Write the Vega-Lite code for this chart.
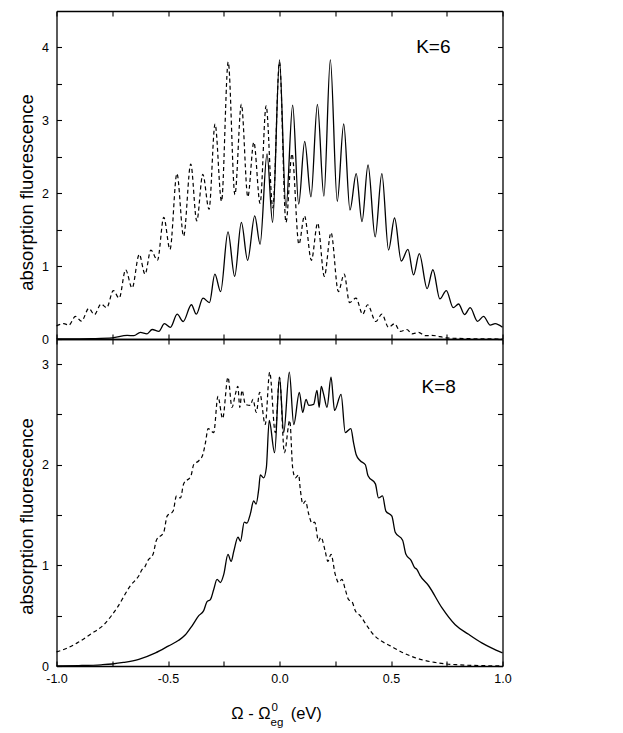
{
  "$schema": "https://vega.github.io/schema/vega-lite/v6.json",
  "padding": {"left": 17.5, "top": 10, "right": 5, "bottom": 5},
  "bounds": "flush",
  "spacing": 0,
  "config": {
    "font": "Liberation Sans",
    "view": {"stroke": null},
    "axis": {
      "domainColor": "black", "domainWidth": 1.3, "tickColor": "black", "tickWidth": 1.1,
      "labelColor": "black", "labelFontSize": 12.5, "labelFont": "Liberation Sans",
      "titleColor": "black", "titleFont": "Liberation Sans", "titleFontWeight": "normal",
      "grid": false, "labelOverlap": false
    }
  },
  "datasets": {
    "k6s": [
      {"x": -1, "y": 0}, {"x": -0.9, "y": 0.002}, {"x": -0.84, "y": 0.005}, {"x": -0.75, "y": 0.015},
      {"x": -0.683, "y": 0.05}, {"x": -0.653, "y": 0.045}, {"x": -0.624, "y": 0.09}, {"x": -0.594, "y": 0.07},
      {"x": -0.571, "y": 0.13}, {"x": -0.541, "y": 0.105}, {"x": -0.516, "y": 0.21}, {"x": -0.489, "y": 0.16},
      {"x": -0.459, "y": 0.34}, {"x": -0.432, "y": 0.24}, {"x": -0.395, "y": 0.47}, {"x": -0.373, "y": 0.34},
      {"x": -0.343, "y": 0.56}, {"x": -0.314, "y": 0.5}, {"x": -0.29, "y": 0.89}, {"x": -0.264, "y": 0.65},
      {"x": -0.231, "y": 1.47}, {"x": -0.201, "y": 0.86}, {"x": -0.171, "y": 1.6}, {"x": -0.143, "y": 1.08},
      {"x": -0.111, "y": 1.69}, {"x": -0.087, "y": 1.3}, {"x": -0.056, "y": 2.54}, {"x": -0.031, "y": 1.6},
      {"x": 0, "y": 3.83}, {"x": 0.029, "y": 1.8}, {"x": 0.059, "y": 3.21}, {"x": 0.086, "y": 1.85},
      {"x": 0.113, "y": 2.71}, {"x": 0.141, "y": 1.95}, {"x": 0.17, "y": 3.22}, {"x": 0.199, "y": 1.96},
      {"x": 0.228, "y": 3.83}, {"x": 0.259, "y": 1.89}, {"x": 0.288, "y": 2.95}, {"x": 0.316, "y": 1.77},
      {"x": 0.344, "y": 2.27}, {"x": 0.37, "y": 1.61}, {"x": 0.397, "y": 2.39}, {"x": 0.429, "y": 1.4},
      {"x": 0.459, "y": 2.27}, {"x": 0.489, "y": 1.22}, {"x": 0.516, "y": 1.66}, {"x": 0.546, "y": 1.07},
      {"x": 0.576, "y": 1.23}, {"x": 0.601, "y": 0.88}, {"x": 0.627, "y": 1.17}, {"x": 0.662, "y": 0.69},
      {"x": 0.688, "y": 0.95}, {"x": 0.719, "y": 0.55}, {"x": 0.748, "y": 0.665}, {"x": 0.779, "y": 0.43},
      {"x": 0.803, "y": 0.48}, {"x": 0.83, "y": 0.335}, {"x": 0.855, "y": 0.43}, {"x": 0.888, "y": 0.243},
      {"x": 0.915, "y": 0.31}, {"x": 0.945, "y": 0.19}, {"x": 0.967, "y": 0.21}, {"x": 1, "y": 0.16}
    ],
    "k6d": [
      {"x": -1, "y": 0.18}, {"x": -0.967, "y": 0.21}, {"x": -0.945, "y": 0.19}, {"x": -0.915, "y": 0.31},
      {"x": -0.888, "y": 0.245}, {"x": -0.855, "y": 0.42}, {"x": -0.83, "y": 0.335}, {"x": -0.8, "y": 0.48},
      {"x": -0.775, "y": 0.43}, {"x": -0.745, "y": 0.665}, {"x": -0.719, "y": 0.56}, {"x": -0.69, "y": 0.95},
      {"x": -0.661, "y": 0.7}, {"x": -0.629, "y": 1.16}, {"x": -0.603, "y": 0.89}, {"x": -0.577, "y": 1.22},
      {"x": -0.547, "y": 1.08}, {"x": -0.519, "y": 1.67}, {"x": -0.491, "y": 1.23}, {"x": -0.46, "y": 2.27},
      {"x": -0.43, "y": 1.41}, {"x": -0.398, "y": 2.4}, {"x": -0.371, "y": 1.62}, {"x": -0.344, "y": 2.26},
      {"x": -0.316, "y": 1.78}, {"x": -0.289, "y": 2.95}, {"x": -0.26, "y": 1.89}, {"x": -0.23, "y": 3.8},
      {"x": -0.2, "y": 1.98}, {"x": -0.171, "y": 3.22}, {"x": -0.142, "y": 1.95}, {"x": -0.115, "y": 2.7},
      {"x": -0.087, "y": 1.86}, {"x": -0.06, "y": 3.2}, {"x": -0.03, "y": 1.8}, {"x": 0, "y": 3.8},
      {"x": 0.029, "y": 1.6}, {"x": 0.056, "y": 2.54}, {"x": 0.087, "y": 1.3}, {"x": 0.112, "y": 1.69},
      {"x": 0.143, "y": 1.08}, {"x": 0.171, "y": 1.59}, {"x": 0.201, "y": 0.86}, {"x": 0.231, "y": 1.46},
      {"x": 0.264, "y": 0.65}, {"x": 0.29, "y": 0.89}, {"x": 0.314, "y": 0.5}, {"x": 0.343, "y": 0.56},
      {"x": 0.373, "y": 0.34}, {"x": 0.395, "y": 0.47}, {"x": 0.432, "y": 0.24}, {"x": 0.459, "y": 0.34},
      {"x": 0.489, "y": 0.16}, {"x": 0.516, "y": 0.21}, {"x": 0.541, "y": 0.105}, {"x": 0.571, "y": 0.13},
      {"x": 0.594, "y": 0.07}, {"x": 0.624, "y": 0.09}, {"x": 0.653, "y": 0.045}, {"x": 0.683, "y": 0.05},
      {"x": 0.75, "y": 0.015}, {"x": 0.84, "y": 0.005}, {"x": 0.9, "y": 0.002}, {"x": 1, "y": 0}
    ],
    "k8s": [
      {"x": -1, "y": 0}, {"x": -0.9, "y": 0.004}, {"x": -0.8, "y": 0.012}, {"x": -0.75, "y": 0.02},
      {"x": -0.7, "y": 0.035}, {"x": -0.631, "y": 0.066}, {"x": -0.556, "y": 0.13}, {"x": -0.497, "y": 0.2},
      {"x": -0.452, "y": 0.255}, {"x": -0.422, "y": 0.31}, {"x": -0.392, "y": 0.4}, {"x": -0.362, "y": 0.5},
      {"x": -0.34, "y": 0.55}, {"x": -0.325, "y": 0.64}, {"x": -0.31, "y": 0.66}, {"x": -0.295, "y": 0.76},
      {"x": -0.28, "y": 0.86}, {"x": -0.265, "y": 0.83}, {"x": -0.25, "y": 0.91}, {"x": -0.231, "y": 1.11},
      {"x": -0.217, "y": 1.04}, {"x": -0.205, "y": 1.14}, {"x": -0.186, "y": 1.28}, {"x": -0.175, "y": 1.24},
      {"x": -0.158, "y": 1.43}, {"x": -0.146, "y": 1.42}, {"x": -0.131, "y": 1.51}, {"x": -0.116, "y": 1.64},
      {"x": -0.105, "y": 1.61}, {"x": -0.093, "y": 1.76}, {"x": -0.086, "y": 1.9}, {"x": -0.071, "y": 1.87},
      {"x": -0.059, "y": 1.97}, {"x": -0.046, "y": 2.44}, {"x": -0.022, "y": 2.12}, {"x": 0, "y": 2.87},
      {"x": 0.019, "y": 2.32}, {"x": 0.044, "y": 2.92}, {"x": 0.064, "y": 2.4}, {"x": 0.089, "y": 2.72},
      {"x": 0.104, "y": 2.52}, {"x": 0.119, "y": 2.65}, {"x": 0.131, "y": 2.59}, {"x": 0.153, "y": 2.6},
      {"x": 0.168, "y": 2.74}, {"x": 0.178, "y": 2.57}, {"x": 0.187, "y": 2.78}, {"x": 0.198, "y": 2.7},
      {"x": 0.213, "y": 2.57}, {"x": 0.231, "y": 2.87}, {"x": 0.247, "y": 2.54}, {"x": 0.276, "y": 2.7},
      {"x": 0.295, "y": 2.32}, {"x": 0.32, "y": 2.36}, {"x": 0.332, "y": 2.22}, {"x": 0.344, "y": 2.1},
      {"x": 0.362, "y": 2.04}, {"x": 0.385, "y": 2.0}, {"x": 0.397, "y": 1.89}, {"x": 0.43, "y": 1.81},
      {"x": 0.444, "y": 1.67}, {"x": 0.462, "y": 1.69}, {"x": 0.477, "y": 1.54}, {"x": 0.504, "y": 1.49},
      {"x": 0.519, "y": 1.33}, {"x": 0.552, "y": 1.25}, {"x": 0.567, "y": 1.11}, {"x": 0.59, "y": 1.05},
      {"x": 0.605, "y": 0.98}, {"x": 0.616, "y": 0.96}, {"x": 0.63, "y": 0.9}, {"x": 0.668, "y": 0.8},
      {"x": 0.728, "y": 0.58}, {"x": 0.788, "y": 0.41}, {"x": 0.848, "y": 0.315}, {"x": 0.907, "y": 0.23},
      {"x": 0.95, "y": 0.18}, {"x": 1, "y": 0.13}
    ],
    "k8d": [
      {"x": -1, "y": 0.14}, {"x": -0.95, "y": 0.18}, {"x": -0.907, "y": 0.23}, {"x": -0.848, "y": 0.315},
      {"x": -0.788, "y": 0.41}, {"x": -0.728, "y": 0.58}, {"x": -0.668, "y": 0.8}, {"x": -0.63, "y": 0.9},
      {"x": -0.616, "y": 0.96}, {"x": -0.605, "y": 0.98}, {"x": -0.59, "y": 1.05}, {"x": -0.567, "y": 1.11},
      {"x": -0.552, "y": 1.25}, {"x": -0.519, "y": 1.33}, {"x": -0.504, "y": 1.49}, {"x": -0.477, "y": 1.54},
      {"x": -0.462, "y": 1.69}, {"x": -0.444, "y": 1.67}, {"x": -0.43, "y": 1.81}, {"x": -0.397, "y": 1.89},
      {"x": -0.385, "y": 2.0}, {"x": -0.362, "y": 2.04}, {"x": -0.344, "y": 2.1}, {"x": -0.332, "y": 2.22},
      {"x": -0.32, "y": 2.36}, {"x": -0.295, "y": 2.32}, {"x": -0.276, "y": 2.68}, {"x": -0.255, "y": 2.46},
      {"x": -0.231, "y": 2.87}, {"x": -0.213, "y": 2.57}, {"x": -0.198, "y": 2.7}, {"x": -0.187, "y": 2.78},
      {"x": -0.178, "y": 2.57}, {"x": -0.168, "y": 2.74}, {"x": -0.153, "y": 2.6}, {"x": -0.131, "y": 2.59},
      {"x": -0.119, "y": 2.65}, {"x": -0.104, "y": 2.52}, {"x": -0.089, "y": 2.72}, {"x": -0.064, "y": 2.4},
      {"x": -0.044, "y": 2.92}, {"x": -0.019, "y": 2.32}, {"x": 0, "y": 2.87}, {"x": 0.022, "y": 2.12},
      {"x": 0.046, "y": 2.44}, {"x": 0.059, "y": 1.97}, {"x": 0.071, "y": 1.87}, {"x": 0.086, "y": 1.9},
      {"x": 0.093, "y": 1.76}, {"x": 0.105, "y": 1.61}, {"x": 0.116, "y": 1.64}, {"x": 0.131, "y": 1.51},
      {"x": 0.146, "y": 1.42}, {"x": 0.158, "y": 1.43}, {"x": 0.175, "y": 1.24}, {"x": 0.186, "y": 1.28},
      {"x": 0.205, "y": 1.14}, {"x": 0.217, "y": 1.04}, {"x": 0.231, "y": 1.11}, {"x": 0.25, "y": 0.91},
      {"x": 0.265, "y": 0.83}, {"x": 0.28, "y": 0.86}, {"x": 0.295, "y": 0.76}, {"x": 0.31, "y": 0.66},
      {"x": 0.325, "y": 0.64}, {"x": 0.34, "y": 0.55}, {"x": 0.362, "y": 0.5}, {"x": 0.392, "y": 0.4},
      {"x": 0.422, "y": 0.31}, {"x": 0.452, "y": 0.255}, {"x": 0.497, "y": 0.2}, {"x": 0.556, "y": 0.13},
      {"x": 0.631, "y": 0.066}, {"x": 0.7, "y": 0.035}, {"x": 0.75, "y": 0.02}, {"x": 0.8, "y": 0.012},
      {"x": 0.9, "y": 0.004}, {"x": 1, "y": 0}
    ]
  },
  "vconcat": [
    {
      "width": 446,
      "height": 328,
      "layer": [
        {
          "data": {"name": "k6s"},
          "mark": {"type": "line", "interpolate": "monotone", "color": "black", "strokeWidth": 1.3},
          "encoding": {
            "x": {"field": "x", "type": "quantitative", "scale": {"domain": [-1, 1], "nice": false, "zero": false},
              "axis": {"orient": "bottom", "values": [-1, -0.75, -0.5, -0.25, 0, 0.25, 0.5, 0.75, 1], "labels": false, "title": null, "tickSize": -5}},
            "y": {"field": "y", "type": "quantitative", "scale": {"domain": [0, 4.5], "nice": false},
              "axis": {"orient": "left", "values": [0, 0.5, 1, 1.5, 2, 2.5, 3, 3.5, 4], "labelExpr": "datum.value % 1 === 0 ? format(datum.value, 'd') : ''",
                "tickSize": -5, "labelPadding": 13, "title": "absorption fluorescence", "titleFontSize": 18.5,
                "titleX": -30, "titleY": 181, "titleAngle": -90, "titleAlign": "center", "titleBaseline": "middle"}}
          }
        },
        {
          "data": {"name": "k6d"},
          "mark": {"type": "line", "interpolate": "monotone", "color": "black", "strokeWidth": 1.2, "strokeDash": [4, 3]},
          "encoding": {
            "x": {"field": "x", "type": "quantitative",
              "axis": {"orient": "top", "values": [-1, -0.75, -0.5, -0.25, 0, 0.25, 0.5, 0.75, 1], "labels": false, "title": null, "tickSize": -5}},
            "y": {"field": "y", "type": "quantitative",
              "axis": {"orient": "right", "values": [0, 0.5, 1, 1.5, 2, 2.5, 3, 3.5, 4], "labels": false, "title": null, "tickSize": -5}}
          }
        },
        {
          "data": {"values": [{"label": "K=6"}]},
          "mark": {"type": "text", "fontSize": 19, "align": "center", "baseline": "alphabetic", "color": "black"},
          "encoding": {
            "x": {"datum": 0.69, "type": "quantitative", "axis": null},
            "y": {"datum": 3.92, "type": "quantitative", "axis": null},
            "text": {"field": "label"}
          }
        }
      ],
      "resolve": {"axis": {"x": "independent", "y": "independent"}}
    },
    {
      "width": 446,
      "height": 327,
      "layer": [
        {
          "data": {"name": "k8s"},
          "mark": {"type": "line", "interpolate": "monotone", "color": "black", "strokeWidth": 1.3},
          "encoding": {
            "x": {"field": "x", "type": "quantitative", "scale": {"domain": [-1, 1], "nice": false, "zero": false},
              "axis": {"orient": "bottom", "values": [-1, -0.75, -0.5, -0.25, 0, 0.25, 0.5, 0.75, 1],
                "labelExpr": "abs(datum.value * 2 - round(datum.value * 2)) < 0.001 ? (datum.value < 0 ? '-' : '') + format(abs(datum.value), '.1f') : ''",
                "labelFlush": false, "labelPadding": 11, "title": null, "tickSize": -5}},
            "y": {"field": "y", "type": "quantitative", "scale": {"domain": [0, 3.25], "nice": false},
              "axis": {"orient": "left", "values": [0, 0.5, 1, 1.5, 2, 2.5, 3], "labelExpr": "datum.value % 1 === 0 ? format(datum.value, 'd') : ''",
                "tickSize": -5, "labelPadding": 13, "title": "absorption fluorescence", "titleFontSize": 18.5,
                "titleX": -30, "titleY": 177, "titleAngle": -90, "titleAlign": "center", "titleBaseline": "middle"}}
          }
        },
        {
          "data": {"name": "k8d"},
          "mark": {"type": "line", "interpolate": "monotone", "color": "black", "strokeWidth": 1.2, "strokeDash": [4, 3]},
          "encoding": {
            "x": {"field": "x", "type": "quantitative",
              "axis": {"orient": "top", "values": [-1, -0.75, -0.5, -0.25, 0, 0.25, 0.5, 0.75, 1], "labels": false, "title": null, "tickSize": -5}},
            "y": {"field": "y", "type": "quantitative",
              "axis": {"orient": "right", "values": [0, 0.5, 1, 1.5, 2, 2.5, 3], "labels": false, "title": null, "tickSize": -5}}
          }
        },
        {
          "data": {"values": [{"label": "K=8"}]},
          "mark": {"type": "text", "fontSize": 19, "align": "center", "baseline": "alphabetic", "color": "black"},
          "encoding": {
            "x": {"datum": 0.714, "type": "quantitative", "axis": null},
            "y": {"datum": 2.71, "type": "quantitative", "axis": null},
            "text": {"field": "label"}
          }
        },
        {
          "data": {"values": [{"label": "Ω - Ω"}]},
          "mark": {"type": "text", "fontSize": 16.5, "align": "right", "baseline": "middle", "color": "black", "clip": false},
          "encoding": {
            "x": {"datum": -0.04, "type": "quantitative", "axis": null},
            "y": {"datum": -0.48, "type": "quantitative", "axis": null},
            "text": {"field": "label"}
          }
        },
        {
          "data": {"values": [{"label": "0"}]},
          "mark": {"type": "text", "fontSize": 11.5, "align": "left", "baseline": "middle", "color": "black", "clip": false},
          "encoding": {
            "x": {"datum": -0.036, "type": "quantitative", "axis": null},
            "y": {"datum": -0.42, "type": "quantitative", "axis": null},
            "text": {"field": "label"}
          }
        },
        {
          "data": {"values": [{"label": "eg"}]},
          "mark": {"type": "text", "fontSize": 11.5, "align": "left", "baseline": "middle", "color": "black", "clip": false},
          "encoding": {
            "x": {"datum": -0.04, "type": "quantitative", "axis": null},
            "y": {"datum": -0.57, "type": "quantitative", "axis": null},
            "text": {"field": "label"}
          }
        },
        {
          "data": {"values": [{"label": "(eV)"}]},
          "mark": {"type": "text", "fontSize": 16.5, "align": "left", "baseline": "middle", "color": "black", "clip": false},
          "encoding": {
            "x": {"datum": 0.05, "type": "quantitative", "axis": null},
            "y": {"datum": -0.48, "type": "quantitative", "axis": null},
            "text": {"field": "label"}
          }
        }
      ],
      "resolve": {"axis": {"x": "independent", "y": "independent"}}
    }
  ]
}
